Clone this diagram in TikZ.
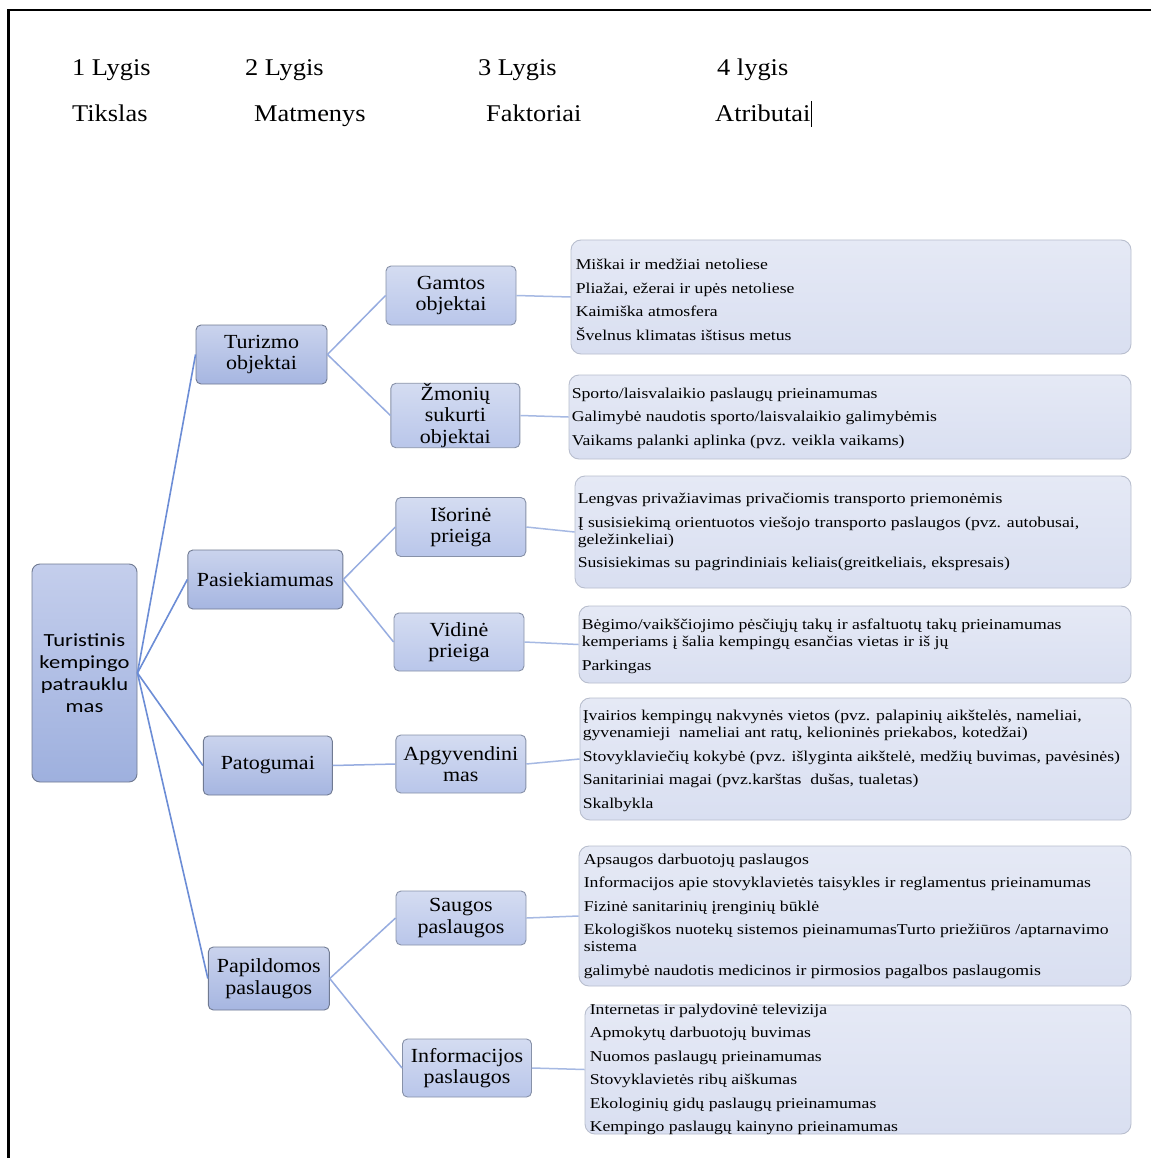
\documentclass[tikz,border=0pt]{standalone}
\usepackage{fontspec}
\setmainfont{Liberation Serif}[FakeStretch=1.1]
\newfontfamily\rootfont{Carlito}[FakeStretch=1.22]
\newfontfamily\attrfont{Liberation Serif}[FakeStretch=1.18]
\definecolor{rtop}{RGB}{196,206,236}
\definecolor{rbot}{RGB}{158,176,222}
\definecolor{ltwotop}{RGB}{202,211,237}
\definecolor{ltwobot}{RGB}{166,182,225}
\definecolor{ltwoborder}{RGB}{112,122,146}
\definecolor{lthreetop}{RGB}{212,220,241}
\definecolor{lthreebot}{RGB}{185,198,234}
\definecolor{lthreeborder}{RGB}{135,145,168}
\definecolor{attrtop}{RGB}{229,233,245}
\definecolor{attrbot}{RGB}{217,223,241}
\definecolor{attrborder}{RGB}{184,190,206}
\definecolor{rootline}{RGB}{108,141,214}
\definecolor{twoline}{RGB}{150,172,224}
\definecolor{threeline}{RGB}{166,185,227}
\begin{document}
\begin{tikzpicture}[x=1pt,y=-1pt,
  rootbox/.style={draw=ltwoborder, line width=0.9pt, rounded corners=8pt, top color=rtop, bottom color=rbot,
    minimum width=105pt, minimum height=218pt, inner sep=0pt, align=center,
    font=\rootfont\fontsize{18.5}{22}\selectfont},
  twobox/.style={draw=ltwoborder, line width=0.9pt, rounded corners=5pt, top color=ltwotop, bottom color=ltwobot,
    inner sep=0pt, align=center, font=\fontsize{20}{21.5}\selectfont},
  threebox/.style={draw=lthreeborder, line width=0.9pt, rounded corners=5pt, top color=lthreetop, bottom color=lthreebot,
    inner sep=0pt, align=center, font=\fontsize{20}{21.5}\selectfont},
  attrbox/.style={draw=attrborder, line width=0.9pt, rounded corners=10pt, top color=attrtop, bottom color=attrbot, inner sep=0pt},
  attrtext/.style={anchor=west, xshift=3pt, inner sep=0pt, align=left, font=\attrfont\fontsize{15}{17}\selectfont},
  hdr/.style={anchor=base west, inner sep=0pt, font=\fontsize{24}{26}\selectfont},
  rootconn/.style={draw=rootline, line width=1.6pt},
  twoconn/.style={draw=twoline, line width=1.5pt},
  threeconn/.style={draw=threeline, line width=1.5pt}
]
\useasboundingbox (0,0) rectangle (1151,1158);
\fill[white] (0,0) rectangle (1151,1158);
% frame
\draw[line width=2.5pt] (1151,10) -- (8.5,10) -- (8.5,1158);

% header
\node[hdr] (h1) at (72,76) {1 Lygis};
\node[hdr] (h2) at (245,76) {2 Lygis};
\node[hdr] (h3) at (478,76) {3 Lygis};
\node[hdr] (h4) at (717,76) {4 lygis};
\node[hdr] (t1) at (72,122) {Tikslas};
\node[hdr] (t2) at (254,122) {Matmenys};
\node[hdr] (t3) at (486,122) {Faktoriai};
\node[hdr] (t4) at (715,122) {Atributai};
\draw[line width=1pt] (811,101) -- (811,127);

% root
\node[rootbox] (root) at (84.5,673) {Turistinis\\kempingo\\patrauklu\\mas};

% level 2
\node[twobox, minimum width=131pt, minimum height=59pt] (tur) at (261.5,354.5) {Turizmo\\objektai};
\node[twobox, minimum width=155pt, minimum height=59pt] (pas) at (265.3,579.5) {Pasiekiamumas};
\node[twobox, minimum width=129pt, minimum height=59pt] (pat) at (267.8,765.5) {Patogumai};
\node[twobox, minimum width=121pt, minimum height=63pt] (pap) at (268.8,978.5) {Papildomos\\paslaugos};

% level 3
\node[threebox, minimum width=130pt, minimum height=59pt] (gam) at (451,295.5) {Gamtos\\objektai};
\node[threebox, minimum width=129pt, minimum height=59pt] (zmo) at (455.4,415.5) {Žmonių\\sukurti\\objektai};
\node[threebox, minimum width=130pt, minimum height=59pt] (iso) at (460.8,527) {Išorinė\\prieiga};
\node[threebox, minimum width=130pt, minimum height=58pt] (vid) at (459,642) {Vidinė\\prieiga};
\node[threebox, minimum width=130pt, minimum height=58pt] (apg) at (460.8,764) {Apgyvendini\\mas};
\node[threebox, minimum width=130pt, minimum height=54pt] (sau) at (461,918) {Saugos\\paslaugos};
\node[threebox, minimum width=129pt, minimum height=58pt] (inf) at (467,1068) {Informacijos\\paslaugos};

% level 4 boxes
\node[attrbox, minimum width=560pt, minimum height=114pt] (a1) at (851,297) {};
\node[attrbox, minimum width=562pt, minimum height=84pt] (a2) at (850,417) {};
\node[attrbox, minimum width=556pt, minimum height=112pt] (a3) at (853,532) {};
\node[attrbox, minimum width=552pt, minimum height=77pt] (a4) at (855,644.5) {};
\node[attrbox, minimum width=551pt, minimum height=122pt] (a5) at (855.5,759) {};
\node[attrbox, minimum width=552pt, minimum height=140pt] (a6) at (855,916) {};
\node[attrbox, minimum width=546pt, minimum height=129pt] (a7) at (858,1069.5) {};

\node[attrtext, xshift=2pt, yshift=-3pt] (x1) at (a1.west) {Miškai ir medžiai netoliese\\[6.5pt]Pliažai, ežerai ir upės netoliese\\[6.5pt]Kaimiška atmosfera\\[6.5pt]Švelnus klimatas ištisus metus};
\node[attrtext, yshift=-1pt] (x2) at (a2.west) {Sporto/laisvalaikio paslaugų prieinamumas\\[6.5pt]Galimybė naudotis sporto/laisvalaikio galimybėmis\\[6.5pt]Vaikams palanki aplinka (pvz. veikla vaikams)};
\node[attrtext] (x3) at (a3.west) {Lengvas privažiavimas privačiomis transporto priemonėmis\\[6.5pt]Į susisiekimą orientuotos viešojo transporto paslaugos (pvz. autobusai,\\geležinkeliai)\\[6.5pt]Susisiekimas su pagrindiniais keliais(greitkeliais, ekspresais)};
\node[attrtext, yshift=-2pt] (x4) at (a4.west) {Bėgimo/vaikščiojimo pėsčiųjų takų ir asfaltuotų takų prieinamumas\\kemperiams į šalia kempingų esančias vietas ir iš jų\\[6.5pt]Parkingas};
\node[attrtext, yshift=-2pt] (x5) at (a5.west) {Įvairios kempingų nakvynės vietos (pvz. palapinių aikštelės, nameliai,\\gyvenamieji\ \ nameliai ant ratų, kelioninės priekabos, kotedžai)\\[6.5pt]Stovyklaviečių kokybė (pvz. išlyginta aikštelė, medžių buvimas, pavėsinės)\\[6.5pt]Sanitariniai magai (pvz.karštas\ \ dušas, tualetas)\\[6.5pt]Skalbykla};
\node[attrtext, xshift=2pt] (x6) at (a6.west) {Apsaugos darbuotojų paslaugos\\[6.5pt]Informacijos apie stovyklavietės taisykles ir reglamentus prieinamumas\\[6.5pt]Fizinė sanitarinių įrenginių būklė\\[6.5pt]Ekologiškos nuotekų sistemos pieinamumasTurto priežiūros /aptarnavimo\\sistema\\[6.5pt]galimybė naudotis medicinos ir pirmosios pagalbos paslaugomis};
\node[attrtext, xshift=2pt] (x7) at (a7.west) {Internetas ir palydovinė televizija\\[6.5pt]Apmokytų darbuotojų buvimas\\[6.5pt]Nuomos paslaugų prieinamumas\\[6.5pt]Stovyklavietės ribų aiškumas\\[6.5pt]Ekologinių gidų paslaugų prieinamumas\\[6.5pt]Kempingo paslaugų kainyno prieinamumas};

% connectors
\draw[rootconn] (root.east) -- (tur.west);
\draw[rootconn] (root.east) -- (pas.west);
\draw[rootconn] (root.east) -- (pat.west);
\draw[rootconn] (root.east) -- (pap.west);
\draw[twoconn] (tur.east) -- (gam.west);
\draw[twoconn] (tur.east) -- (zmo.west);
\draw[twoconn] (pas.east) -- (iso.west);
\draw[twoconn] (pas.east) -- (vid.west);
\draw[twoconn] (pat.east) -- (apg.west);
\draw[twoconn] (pap.east) -- (sau.west);
\draw[twoconn] (pap.east) -- (inf.west);
\draw[threeconn] (gam.east) -- (a1.west);
\draw[threeconn] (zmo.east) -- (a2.west);
\draw[threeconn] (iso.east) -- (a3.west);
\draw[threeconn] (vid.east) -- (a4.west);
\draw[threeconn] (apg.east) -- (a5.west);
\draw[threeconn] (sau.east) -- (a6.west);
\draw[threeconn] (inf.east) -- (a7.west);
\end{tikzpicture}
\end{document}
